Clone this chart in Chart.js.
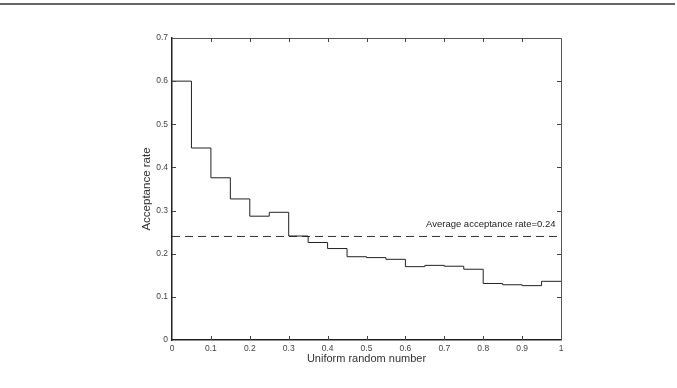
<!DOCTYPE html>
<html>
<head>
<meta charset="utf-8">
<script src="https://cdn.jsdelivr.net/npm/chart.js@4/dist/chart.umd.min.js"></script>
<style>
  html, body { margin: 0; padding: 0; background: #fff; }
  #wrap { position: relative; width: 677px; height: 388px; }
  #topline { position: absolute; left: 0; top: 3px; width: 675px; height: 2px; background: #666; }
  canvas { position: absolute; left: 0; top: 0; }
</style>
</head>
<body>
<div id="wrap">
  <canvas id="c" width="677" height="388"></canvas>
  <div id="topline"></div>
</div>
<script>
// Bin left edges (uniform random number) and acceptance rate per bin
const binEdges = [0, 0.05, 0.1, 0.15, 0.2, 0.25, 0.3, 0.35, 0.4, 0.45, 0.5, 0.55, 0.6, 0.65, 0.7, 0.75, 0.8, 0.85, 0.9, 0.95, 1.0];
const acceptance = [0.600, 0.445, 0.376, 0.327, 0.287, 0.296, 0.241, 0.226, 0.212, 0.193, 0.191, 0.187, 0.170, 0.173, 0.171, 0.164, 0.131, 0.128, 0.126, 0.136];
const averageRate = 0.24;
const averageLabel = 'Average acceptance rate=0.24';
const averageLabelPos = { x: 0.653, y: 0.268 };
const xTicks = [0, 0.1, 0.2, 0.3, 0.4, 0.5, 0.6, 0.7, 0.8, 0.9, 1];
const yTicks = [0, 0.1, 0.2, 0.3, 0.4, 0.5, 0.6, 0.7];

const stepPoints = acceptance.map((v, i) => ({ x: binEdges[i], y: v }));
stepPoints.push({ x: binEdges[binEdges.length - 1], y: acceptance[acceptance.length - 1] });

const framePlugin = {
  id: 'frame',
  afterDraw(chart) {
    const ctx = chart.ctx;
    const a = chart.chartArea;
    const xs = chart.scales.x, ys = chart.scales.y;
    ctx.save();
    ctx.strokeStyle = '#555';
    ctx.lineWidth = 1;
    ctx.beginPath();
    ctx.moveTo(a.left, a.top + 0.5);
    ctx.lineTo(a.right + 0.5, a.top + 0.5);
    ctx.lineTo(a.right + 0.5, a.bottom);
    ctx.stroke();
    ctx.strokeStyle = '#444';
    ctx.beginPath();
    xTicks.slice(1, -1).forEach(v => {
      const px = Math.round(xs.getPixelForValue(v)) + 0.5;
      ctx.moveTo(px, a.bottom); ctx.lineTo(px, a.bottom - 4);
      ctx.moveTo(px, a.top); ctx.lineTo(px, a.top + 4);
    });
    yTicks.slice(1, -1).forEach(v => {
      const py = Math.round(ys.getPixelForValue(v)) + 0.5;
      ctx.moveTo(a.left, py); ctx.lineTo(a.left + 4, py);
      ctx.moveTo(a.right, py); ctx.lineTo(a.right - 4, py);
    });
    ctx.stroke();
    ctx.fillStyle = '#222';
    ctx.font = '9.5px "Liberation Sans", Arial, sans-serif';
    ctx.textAlign = 'left';
    ctx.textBaseline = 'middle';
    ctx.fillText(averageLabel, xs.getPixelForValue(averageLabelPos.x), ys.getPixelForValue(averageLabelPos.y));
    ctx.restore();
  }
};

new Chart(document.getElementById('c'), {
  type: 'line',
  data: {
    datasets: [
      {
        data: stepPoints,
        stepped: 'before',
        borderColor: '#222',
        borderWidth: 1,
        pointRadius: 0,
        fill: false
      },
      {
        data: [{ x: 0, y: averageRate }, { x: 1, y: averageRate }],
        borderColor: '#333',
        borderWidth: 1,
        borderDash: [8, 5],
        pointRadius: 0,
        fill: false
      }
    ]
  },
  options: {
    responsive: false,
    animation: false,
    layout: { padding: { left: 140, right: 116, top: 38, bottom: 16 } },
    plugins: { legend: { display: false }, tooltip: { enabled: false } },
    scales: {
      x: {
        type: 'linear',
        min: 0, max: 1,
        afterFit(s) { s.height = 32; },
        afterBuildTicks(s) { s.ticks = xTicks.map(v => ({ value: v })); },
        grid: { display: false, drawTicks: false },
        border: { display: true, color: '#222', width: 1.5 },
        ticks: {
          padding: 4,
          color: '#444',
          font: { family: '"Liberation Sans", Arial, sans-serif', size: 8.5 },
          maxRotation: 0,
          callback: v => String(Math.round(v * 10) / 10)
        },
        title: {
          display: true,
          text: 'Uniform random number',
          color: '#333',
          padding: { top: 0, bottom: 6 },
          font: { family: '"Liberation Sans", Arial, sans-serif', size: 11 }
        }
      },
      y: {
        type: 'linear',
        min: 0, max: 0.7,
        afterFit(s) { s.width = 32; },
        afterBuildTicks(s) { s.ticks = yTicks.map(v => ({ value: v })); },
        grid: { display: false, drawTicks: false },
        border: { display: true, color: '#222', width: 1.5 },
        ticks: {
          padding: 4,
          color: '#444',
          font: { family: '"Liberation Sans", Arial, sans-serif', size: 8.5 },
          callback: v => String(Math.round(v * 10) / 10)
        },
        title: {
          display: true,
          text: 'Acceptance rate',
          color: '#333',
          padding: { top: 0, bottom: 0 },
          font: { family: '"Liberation Sans", Arial, sans-serif', size: 11.5 }
        }
      }
    }
  },
  plugins: [framePlugin]
});
</script>
</body>
</html>
